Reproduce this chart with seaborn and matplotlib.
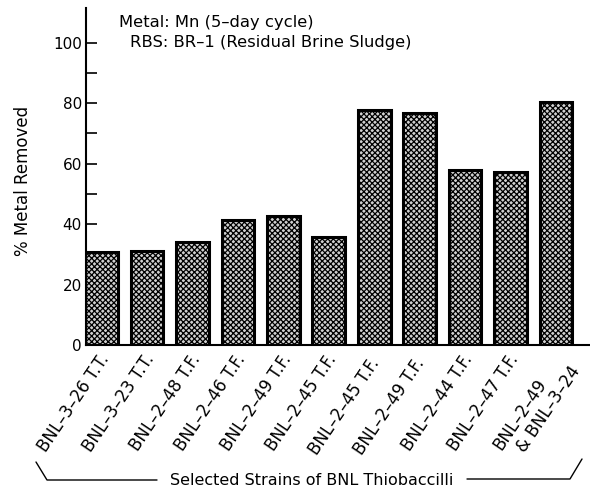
import matplotlib
matplotlib.use("Agg")
import matplotlib.pyplot as plt
import matplotlib.transforms as mtrans
import seaborn as sns
import pandas as pd
from matplotlib.lines import Line2D

strains = ["BNL–3–26 T.T.", "BNL–3–23 T.T.", "BNL–2–48 T.F.", "BNL–2–46 T.F.",
           "BNL–2–49 T.F.", "BNL–2–45 T.F.", "BNL–2–45 T.F. ", "BNL–2–49 T.F. ",
           "BNL–2–44 T.F.", "BNL–2–47 T.F.", "BNL–2–49\n  & BNL–3–24"]
removed = [30.6, 31.1, 33.9, 41.4, 42.5, 35.7, 77.6, 76.7, 58.0, 57.2, 80.3]
yticks_major = [0, 20, 40, 60, 80, 100]
yticks_minor = [10, 30, 50, 70, 90]

sns.set_style("white")
plt.rcParams['font.family'] = ['DejaVu Sans']
plt.rcParams['text.color'] = 'black'
plt.rcParams['axes.labelcolor'] = 'black'
plt.rcParams['xtick.color'] = 'black'
plt.rcParams['ytick.color'] = 'black'
plt.rcParams['hatch.color'] = 'black'
plt.rcParams['hatch.linewidth'] = 0.9

df = pd.DataFrame({"strain": strains, "removed": removed})

fig = plt.figure(figsize=(5.9, 4.88), dpi=100)
ax = fig.add_axes([0.146, 0.293, 0.854, 0.691])
sns.barplot(data=df, x="strain", y="removed", color="white", edgecolor="black",
            linewidth=2.2, width=0.72, ax=ax, saturation=1)
for p in ax.patches:
    p.set_hatch("xxxxxx")
    p.set_facecolor("#d0d0d0")

ax.set_xlim(-0.34, 10.75)
ax.set_ylim(0, 111.5)
ax.set_yticks(yticks_major)
ax.set_yticks(yticks_minor, minor=True)
ax.set_yticklabels([str(v) for v in yticks_major], fontsize=11)
ax.tick_params(axis='y', which='both', left=True, direction='in', length=8,
               width=1.2, pad=3, colors='black')
ax.tick_params(axis='x', length=0, pad=8, colors='black')
ax.set_xticks(range(len(strains)))
ax.set_xticklabels(strains, rotation=56, ha='right', va='center',
                   rotation_mode='anchor', fontsize=12, multialignment='left')
shift = mtrans.ScaledTranslation(4/100, 0, fig.dpi_scale_trans)
for lbl in ax.get_xticklabels():
    lbl.set_transform(lbl.get_transform() + shift)
last = ax.get_xticklabels()[-1]
last.set_transform(last.get_transform() + mtrans.ScaledTranslation(8/100, -6/100, fig.dpi_scale_trans))

for s in ['top', 'right']:
    ax.spines[s].set_visible(False)
for s in ['left', 'bottom']:
    ax.spines[s].set_linewidth(1.5)
    ax.spines[s].set_color('black')
ax.set_xlabel("")
ax.set_ylabel("% Metal Removed", fontsize=12, color='black')
ax.yaxis.set_label_coords(-0.107, 0.487)

fig.text(119/590, 1 - 23/488, "Metal: Mn (5–day cycle)", fontsize=11.8, va='center', ha='left')
fig.text(130/590, 1 - 43/488, "RBS: BR–1 (Residual Brine Sludge)", fontsize=11.8, va='center', ha='left')

fig.text(312/590, 1 - 485/488, "Selected Strains of BNL Thiobaccilli", fontsize=11.5,
         va='baseline', ha='center')
def fl(xs, ys):
    fig.add_artist(Line2D([x/590 for x in xs], [1 - y/488 for y in ys],
                          color='black', lw=1.0, transform=fig.transFigure))
fl([36, 47, 157], [462, 480, 480])
fl([467, 570, 582], [479, 479, 459])

fig.savefig("out.png", dpi=100)
